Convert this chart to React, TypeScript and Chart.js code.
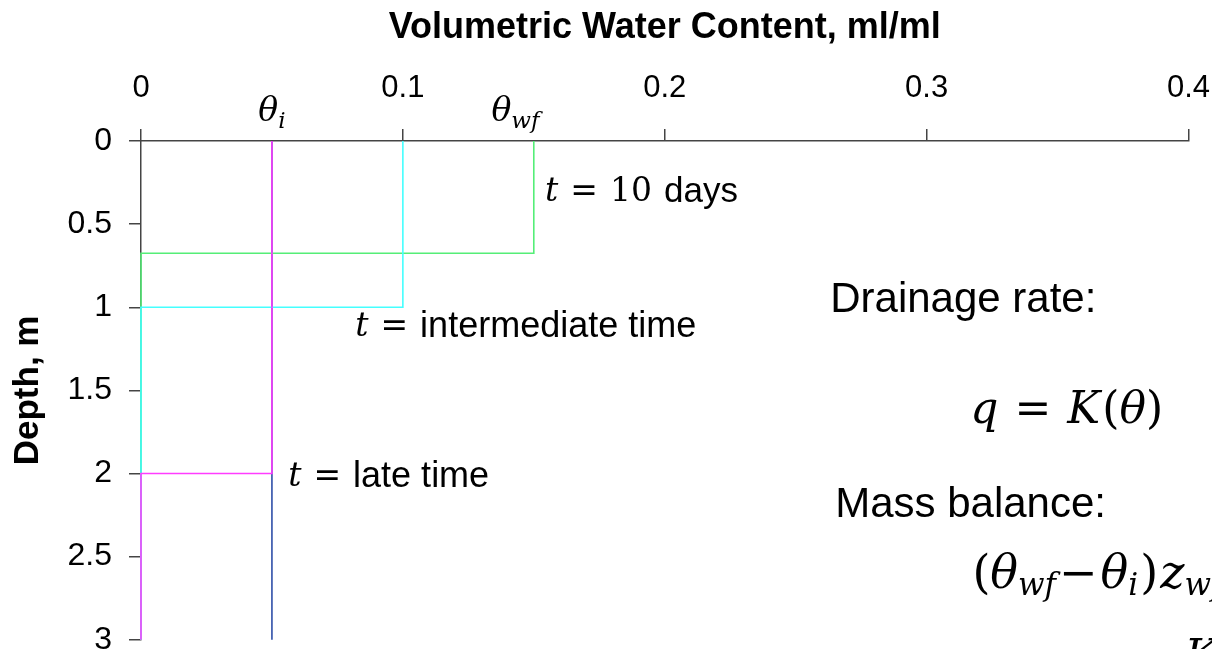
import React, { useEffect, useRef } from "react";
import { Chart, registerables } from "chart.js";

Chart.register(...registerables);

// ---- data ----
const xTickValues = [0, 0.1, 0.2, 0.3, 0.4];
const xTickLabels = ["0", "0.1", "0.2", "0.3", "0.4"];
const yTickValues = [0, 0.5, 1, 1.5, 2, 2.5, 3];
const yTickLabels = ["0", "0.5", "1", "1.5", "2", "2.5", "3"];

// profiles: water content (x) vs depth (y)
const initialTheta = [0.05, 0.05];
const initialDepth = [0, 3];
const tenDaysTheta = [0.15, 0.15, 0, 0];
const tenDaysDepth = [0, 0.675, 0.675, 3];
const intermediateTheta = [0.1, 0.1, 0, 0];
const intermediateDepth = [0, 1, 1, 3];
const lateTheta = [0.05, 0.05, 0, 0];
const lateDepth = [0, 2, 2, 3];

const toPoints = (xs: number[], ys: number[]) => xs.map((x, i) => ({ x, y: ys[i] }));

// ---- text styles ----
const SANS = '"Liberation Sans", Arial, sans-serif';
const SERIF = '"DejaVu Serif", "Liberation Serif", serif';
const MI = (s: number) => `italic ${s}px ${SERIF}`;
const MR = (s: number) => `${s}px ${SERIF}`;
const SR = (s: number) => `${s}px ${SANS}`;

type Seg = { t: string; f: string; dy?: number; gap?: number };
type Note = { x: number; y: number; align: "left" | "center"; segs: Seg[] };

const notes: Note[] = [
  { x: 0.05, y: -0.17, align: "center", segs: [{ t: "θ", f: MI(33) }, { t: "i", f: MI(23), dy: 9 }] },
  { x: 0.143, y: -0.17, align: "center", segs: [{ t: "θ", f: MI(33) }, { t: "wf", f: MI(23), dy: 9 }] },
  {
    x: 0.1543, y: 0.307, align: "left",
    segs: [{ t: "t", f: MI(33), gap: 12 }, { t: "=", f: MR(33), gap: 12 }, { t: "10", f: MR(33), gap: 12 }, { t: "days", f: SR(35) }],
  },
  {
    x: 0.0818, y: 1.12, align: "left",
    segs: [{ t: "t", f: MI(33), gap: 12 }, { t: "=", f: MR(33), gap: 12 }, { t: "intermediate time", f: SR(36) }],
  },
  {
    x: 0.0562, y: 2.024, align: "left",
    segs: [{ t: "t", f: MI(33), gap: 12 }, { t: "=", f: MR(33), gap: 12 }, { t: "late time", f: SR(36) }],
  },
  { x: 0.2632, y: 0.958, align: "left", segs: [{ t: "Drainage rate:", f: SR(42) }] },
  {
    x: 0.3167, y: 1.625, align: "left",
    segs: [
      { t: "q", f: MI(44), gap: 16 }, { t: "=", f: MR(44), gap: 16 }, { t: "K", f: MI(44), gap: 2 },
      { t: "(", f: MR(44) }, { t: "θ", f: MI(44) }, { t: ")", f: MR(44) },
    ],
  },
  { x: 0.2651, y: 2.193, align: "left", segs: [{ t: "Mass balance:", f: SR(42) }] },
  {
    x: 0.3175, y: 2.614, align: "left",
    segs: [
      { t: "(", f: MR(46) }, { t: "θ", f: MI(46) }, { t: "wf", f: MI(31), dy: 11, gap: 3 },
      { t: "−", f: MR(46), gap: 3 }, { t: "θ", f: MI(46) }, { t: "i", f: MI(31), dy: 11, gap: 2 },
      { t: ")", f: MR(46), gap: 2 }, { t: "z", f: MI(46) }, { t: "wf", f: MI(31), dy: 11 },
    ],
  },
  { x: 0.3985, y: 3.12, align: "left", segs: [{ t: "K", f: MI(44) }, { t: "(", f: MR(44) }] },
];

const notesPlugin = {
  id: "notes",
  afterDraw(chart: any) {
    const { ctx, scales } = chart;
    const xs = scales.x;
    const ys = scales.y;
    ctx.save();
    ctx.fillStyle = "#000";
    ctx.textBaseline = "middle";
    ctx.textAlign = "left";
    for (const n of notes) {
      let w = 0;
      for (const s of n.segs) {
        ctx.font = s.f;
        w += ctx.measureText(s.t).width + (s.gap || 0);
      }
      let cx = xs.getPixelForValue(n.x) - (n.align === "center" ? w / 2 : 0);
      const cy = ys.getPixelForValue(n.y);
      for (const s of n.segs) {
        ctx.font = s.f;
        ctx.fillText(s.t, cx, cy + (s.dy || 0));
        cx += ctx.measureText(s.t).width + (s.gap || 0);
      }
    }
    ctx.restore();
  },
};

const AXIS = "#444444";
const CANVAS_W = 1232;
const CANVAS_H = 676;

export default function App() {
  const ref = useRef<HTMLCanvasElement | null>(null);
  useEffect(() => {
    if (!ref.current) return;
    const line = (data: any, color: string) => ({
      data,
      borderColor: color,
      backgroundColor: color,
      borderWidth: 1.6,
      showLine: true,
      pointRadius: 0,
      fill: false,
      clip: false as any,
    });
    const chart = new Chart(ref.current, {
      type: "scatter",
      data: {
        datasets: [
          { label: "late time", ...line(toPoints(lateTheta, lateDepth), "#ff3cff") },
          { label: "intermediate time", ...line(toPoints(intermediateTheta, intermediateDepth), "#44ffff") },
          { label: "t = 10 days", ...line(toPoints(tenDaysTheta, tenDaysDepth), "#55ee77") },
          { label: "initial", ...line(toPoints(initialTheta, initialDepth), "#2f4fa8") },
        ],
      },
      options: {
        animation: false,
        responsive: false,
        devicePixelRatio: 1,
        layout: { padding: 0 },
        plugins: { legend: { display: false }, tooltip: { enabled: false } },
        scales: {
          x: {
            type: "linear",
            position: "top",
            min: 0,
            max: 0.4,
            afterBuildTicks: (s: any) => { s.ticks = xTickValues.map((v) => ({ value: v })); },
            afterFit: (s: any) => { s.height = 141; },
            ticks: {
              color: "#000",
              font: { family: SANS, size: 31 },
              padding: 22,
              maxRotation: 0,
              callback: (v: any) => { const i = xTickValues.findIndex((t) => Math.abs(t - v) < 1e-9); return i >= 0 ? xTickLabels[i] : ""; },
            },
            grid: { drawOnChartArea: false, drawTicks: true, tickLength: 12, color: AXIS, lineWidth: 1.5 },
            border: { display: true, color: AXIS, width: 1.5 },
            title: {
              display: true,
              text: "Volumetric Water Content, ml/ml",
              color: "#000",
              font: { family: SANS, size: 36, weight: "bold" },
              padding: { top: 6, bottom: 0 },
            },
          },
          y: {
            type: "linear",
            position: "left",
            reverse: true,
            min: 0,
            max: 3,
            afterBuildTicks: (s: any) => { s.ticks = yTickValues.map((v) => ({ value: v })); },
            afterFit: (s: any) => { s.width = 141; },
            ticks: {
              color: "#000",
              font: { family: SANS, size: 32 },
              padding: 17,
              callback: (v: any) => { const i = yTickValues.findIndex((t) => Math.abs(t - v) < 1e-9); return i >= 0 ? yTickLabels[i] : ""; },
            },
            grid: { drawOnChartArea: false, drawTicks: true, tickLength: 12, color: AXIS, lineWidth: 1.5 },
            border: { display: true, color: AXIS, width: 1.5 },
            title: {
              display: true,
              text: "Depth, m",
              color: "#000",
              font: { family: SANS, size: 35, weight: "bold" },
              padding: { top: 7, bottom: 0 },
            },
          },
        },
      },
      plugins: [notesPlugin],
    });
    return () => chart.destroy();
  }, []);
  return (
    <div style={{ position: "fixed", left: 0, top: 0, width: 1212, height: 649, overflow: "hidden", background: "#fff" }}>
      <canvas ref={ref} width={CANVAS_W} height={CANVAS_H} style={{ width: CANVAS_W, height: CANVAS_H, display: "block" }} />
    </div>
  );
}
